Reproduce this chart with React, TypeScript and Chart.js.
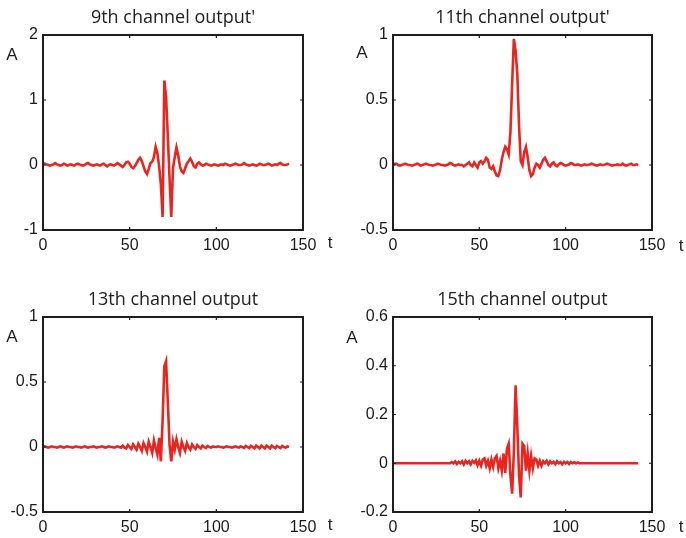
import React, { useEffect, useRef } from 'react';
import { Chart, registerables } from 'chart.js';

Chart.register(...registerables);

// time axis (sample index)
const T: number[] = Array.from({ length: 143 }, (_, i) => i);

const X_TICKS = [0, 50, 100, 150];

const CH9 = [
  0.01, 0.02, 0.01, 0, -0.01, 0, 0.01, 0.03, 0.01, 0,
  -0.01, 0, 0.02, 0.01, -0.01, 0, 0.01, 0, -0.01, 0.01,
  0.02, 0.01, 0, -0.01, 0, 0.02, 0.03, 0.01, 0, -0.01,
  0, 0.01, 0, -0.01, 0.01, 0.02, 0, -0.02, 0, 0.01,
  0, -0.01, 0.01, 0.03, 0.01, -0.01, -0.03, 0, 0.04, 0.05,
  0.02, -0.03, -0.05, -0.02, 0.03, 0.08, 0.11, 0.06, -0.02, -0.1,
  -0.14, -0.06, 0.03, 0.05, 0.12, 0.28, 0.18, -0.02, -0.3, -0.8,
  1.3, 1.05, 0.45, -0.2, -0.8, -0.05, 0.12, 0.27, 0.15, -0.02,
  -0.1, -0.12, -0.05, 0.02, 0.06, 0.1, 0.05, -0.02, -0.04, 0.02,
  0.04, 0.01, -0.01, 0, 0.02, 0.01, 0, -0.01, 0, 0.01,
  0, -0.01, 0, 0.01, 0, 0.02, 0.01, 0, -0.01, 0,
  0.01, 0.02, 0.01, 0, 0, 0.01, 0.03, 0.01, 0, -0.01,
  0, 0.01, 0, -0.01, 0, 0.02, 0.01, 0, 0, 0.01,
  0.02, 0.01, -0.01, 0, 0.01, 0, 0.02, 0.03, 0.01, 0,
  0, 0.01, 0.02,
];

const CH11 = [
  0, 0.01, 0.01, 0, -0.005, 0, 0.005, 0.01, 0.005, 0,
  0, -0.005, 0, 0.005, 0.01, 0.005, -0.005, 0, 0.005, 0.01,
  0.005, 0, 0, -0.005, 0, 0.005, 0.01, 0.005, 0, 0,
  -0.005, 0, 0.005, 0.015, 0.01, 0, -0.005, 0, 0.005, 0,
  0, -0.01, 0, 0.01, 0.02, 0, -0.01, 0.02, 0, -0.02,
  0.02, 0.03, 0.01, 0.03, 0.055, 0.04, -0.02, -0.03, -0.01, -0.05,
  -0.08, -0.085, -0.04, 0.04, 0.1, 0.14, 0.12, 0.08, 0.25, 0.62,
  0.97, 0.88, 0.7, 0.3, 0.03, 0, 0.1, 0.14, 0.06, -0.04,
  -0.085, -0.07, -0.02, 0.01, 0, -0.02, 0.01, 0.04, 0.055, 0.03,
  0, -0.01, 0.01, 0.02, 0, -0.01, 0.005, 0.015, 0.01, 0,
  -0.005, 0, 0.005, 0.015, 0.01, 0, 0, 0.005, 0, -0.005,
  0, 0.005, 0, 0, 0.005, 0.01, 0.005, 0, -0.005, 0,
  0.005, 0, 0, 0.005, 0.01, 0.005, 0, -0.005, 0, 0,
  0.005, 0, 0, 0.01, 0, -0.005, 0, 0.005, 0.01, 0,
  0, 0.005, 0,
];

const CH13 = [
  0, 0.005, 0, -0.005, 0, 0.005, 0, 0, -0.005, 0,
  0.005, 0, -0.005, 0, 0.005, 0, 0, -0.005, 0, 0.005,
  0, 0, -0.005, 0, 0.005, 0, -0.005, 0, 0, 0.005,
  0, -0.005, 0, 0, 0.005, 0, -0.005, 0, 0.005, 0,
  0, -0.005, 0, 0.005, 0, -0.005, 0.01, -0.005, -0.01, 0.015,
  0, -0.015, 0.02, 0, -0.02, 0.025, 0, -0.03, 0.03, 0,
  -0.035, 0.04, 0, -0.045, 0.05, -0.01, -0.06, 0.07, -0.11, 0.2,
  0.62, 0.66, 0.35, 0.02, -0.11, 0.04, -0.02, 0.06, 0, -0.045,
  0.04, 0, -0.03, 0.03, 0, -0.02, 0.02, 0, -0.015, 0.015,
  0, -0.01, 0.01, 0, -0.008, 0.008, 0, -0.005, 0.005, 0,
  0, 0.005, 0, 0, -0.005, 0, 0.005, 0, 0, -0.005,
  0, 0.005, 0, -0.005, 0.005, 0, -0.008, 0.008, 0, -0.008,
  0.01, 0, -0.01, 0.01, 0, -0.01, 0.01, 0, -0.01, 0.01,
  0, -0.01, 0.01, 0, -0.01, 0.008, 0, -0.008, 0.008, 0,
  -0.005, 0.005, 0,
];

const CH15 = [
  0, 0, 0, 0, 0, 0, 0, 0, 0, 0,
  0, 0, 0, 0, 0, 0, 0, 0, 0, 0,
  0, 0, 0, 0, 0, 0, 0, 0, 0, 0,
  0, 0, 0, 0, 0.005, 0, 0.008, -0.003, 0.006, 0,
  0.008, -0.005, 0.01, 0, 0.008, -0.005, 0.01, 0.002, 0.012, -0.008,
  0.01, -0.01, 0.015, 0.02, -0.01, 0.01, -0.02, 0.015, -0.015, 0.02,
  0.03, -0.02, 0.01, -0.03, 0.04, -0.04, 0.06, 0.08, -0.05, -0.125,
  0.05, 0.32, 0.15, -0.05, -0.14, 0.08, 0.07, -0.03, 0.04, -0.03,
  0.03, -0.02, 0.02, 0.015, -0.01, 0.01, -0.01, 0.008, 0, 0.01,
  -0.005, 0.008, 0, 0.006, -0.004, 0.008, 0, 0.005, -0.004, 0.006,
  0, 0.005, -0.003, 0.005, 0, 0.004, 0, 0.003, 0, 0,
  0, 0, 0, 0, 0, 0, 0, 0, 0, 0,
  0, 0, 0, 0, 0, 0, 0, 0, 0, 0,
  0, 0, 0, 0, 0, 0, 0, 0, 0, 0,
  0, 0, 0,
];

const TITLES = ["9th channel output'", "11th channel output'", '13th channel output', '15th channel output'];
const Y_RANGES = [
  [-1, 2, 1],
  [-0.5, 1, 0.5],
  [-0.5, 1, 0.5],
  [-0.2, 0.6, 0.2],
];
const SERIES = [CH9, CH11, CH13, CH15];

type PanelLayout = {
  left: number; top: number; w: number; h: number;
  plotLeft: number; plotRight: number; plotTop: number; plotBottom: number;
  aX: number; aY: number; tX: number; tY: number;
};

const LAYOUTS: PanelLayout[] = [
  { left: 0, top: 0, w: 343, h: 269, plotLeft: 43, plotRight: 303, plotTop: 35, plotBottom: 230, aX: 12, aY: 55, tX: 330, tY: 243 },
  { left: 343, top: 0, w: 343, h: 269, plotLeft: 50, plotRight: 309, plotTop: 35, plotBottom: 230, aX: 19, aY: 53, tX: 338, tY: 246 },
  { left: 0, top: 269, w: 343, h: 269, plotLeft: 43, plotRight: 303, plotTop: 48, plotBottom: 243, aX: 12, aY: 68, tX: 330, tY: 256 },
  { left: 343, top: 269, w: 343, h: 269, plotLeft: 50, plotRight: 309, plotTop: 48, plotBottom: 243, aX: 9, aY: 69, tX: 338, tY: 258 },
];

const RED = '#e8251f';
const INK = '#1e1e1e';
const TICK_FONT = { family: '"Liberation Sans", Arial, sans-serif', size: 16 };

const fmt = (v: number | string) => String(Math.round(Number(v) * 10) / 10);

function Panel({ idx }: { idx: number }) {
  const ref = useRef<HTMLCanvasElement>(null);
  const L = LAYOUTS[idx];
  useEffect(() => {
    const [yMin, yMax, yStep] = Y_RANGES[idx];
    const values = SERIES[idx];
    const framePlugin = {
      id: 'frame' + idx,
      afterDraw(chart: any) {
        const { ctx, chartArea } = chart;
        const { left, right, top, bottom } = chartArea;
        const xs = chart.scales.x;
        const ys = chart.scales.y;
        ctx.save();
        ctx.strokeStyle = INK;
        ctx.lineWidth = 2;
        ctx.strokeRect(left, top, right - left, bottom - top);
        ctx.lineWidth = 1.2;
        ctx.beginPath();
        xs.ticks.forEach((t: any) => {
          const px = xs.getPixelForValue(t.value);
          ctx.moveTo(px, top); ctx.lineTo(px, top + 3);
          ctx.moveTo(px, bottom); ctx.lineTo(px, bottom - 3);
        });
        ys.ticks.forEach((t: any) => {
          const py = ys.getPixelForValue(t.value);
          ctx.moveTo(left, py); ctx.lineTo(left + 3, py);
          ctx.moveTo(right, py); ctx.lineTo(right - 3, py);
        });
        ctx.stroke();
        // title
        ctx.fillStyle = '#222';
        ctx.textAlign = 'center';
        ctx.textBaseline = 'middle';
        ctx.font = '18px "Open Sans", sans-serif';
        ctx.fillText(TITLES[idx], (left + right) / 2, top - 17);
        // axis letters
        ctx.font = '17px "Liberation Sans", Arial, sans-serif';
        ctx.fillText('A', L.aX, L.aY);
        ctx.fillText('t', L.tX, L.tY);
        ctx.restore();
      },
    };
    const chart = new Chart(ref.current as HTMLCanvasElement, {
      type: 'line',
      data: {
        datasets: [
          {
            data: T.map((t, i) => ({ x: t, y: values[i] })),
            borderColor: RED,
            borderWidth: 2.6,
            pointRadius: 0,
            tension: 0,
            fill: false,
          },
        ],
      },
      options: {
        responsive: false,
        animation: false,
        devicePixelRatio: 1,
        layout: { padding: { top: L.plotTop, right: L.w - L.plotRight, left: 0, bottom: 0 } },
        plugins: { legend: { display: false }, tooltip: { enabled: false }, title: { display: false } },
        scales: {
          x: {
            type: 'linear',
            min: 0,
            max: 150,
            afterBuildTicks: (s: any) => { s.ticks = X_TICKS.map((v) => ({ value: v })); },
            ticks: { font: TICK_FONT, color: '#1a1a1a', padding: 6, maxRotation: 0, callback: fmt },
            grid: { display: false, drawTicks: false },
            border: { display: false },
            afterFit: (s: any) => { s.height = L.h - L.plotBottom; },
          },
          y: {
            min: yMin,
            max: yMax,
            ticks: { stepSize: yStep, font: TICK_FONT, color: '#1a1a1a', padding: 5, callback: fmt },
            grid: { display: false, drawTicks: false },
            border: { display: false },
            afterFit: (s: any) => { s.width = L.plotLeft; },
          },
        },
      } as any,
      plugins: [framePlugin],
    });
    return () => chart.destroy();
  }, [idx]);
  return (
    <canvas
      ref={ref}
      width={L.w}
      height={L.h}
      style={{ position: 'absolute', left: L.left, top: L.top, width: L.w, height: L.h }}
    />
  );
}

export default function App() {
  return (
    <div style={{ position: 'absolute', left: 0, top: 0, width: 686, height: 538, background: '#fff', overflow: 'hidden' }}>
      {[0, 1, 2, 3].map((i) => (
        <Panel key={i} idx={i} />
      ))}
    </div>
  );
}
